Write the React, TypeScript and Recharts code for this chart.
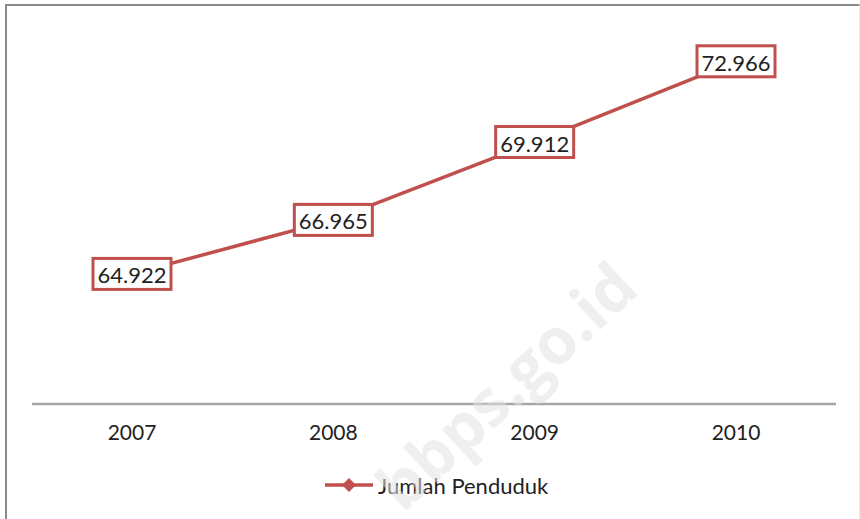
import { LineChart, Line, XAxis, YAxis, Legend } from "recharts";

const years = ["2007", "2008", "2009", "2010"];
const penduduk = [64922, 66965, 69912, 72966];
const seriesName = "Jumlah Penduduk";

const data = years.map((y, i) => ({ year: y, value: penduduk[i] }));

const RED = "#c0504d";
const FONT = "Lato, 'Open Sans', sans-serif";

// 64922 -> "64.922"
const fmt = (v: number) => {
  const th = Math.floor(v / 1000);
  const rest = String(v % 1000).padStart(3, "0");
  return `${th}.${rest}`;
};

const BoxLabel = (props: any) => {
  const { x, y, value } = props;
  const w = 78;
  const h = 31;
  return (
    <g>
      <rect
        x={x - w / 2}
        y={y - h / 2}
        width={w}
        height={h}
        fill="#fff"
        stroke={RED}
        strokeWidth={3}
      />
      <text
        x={x}
        y={y + 1}
        textAnchor="middle"
        dominantBaseline="central"
        fontSize={22}
        fontFamily={FONT}
        fill="#222"
      >
        {fmt(value)}
      </text>
    </g>
  );
};

const LegendContent = () => (
  <div
    style={{
      display: "flex",
      alignItems: "center",
      paddingLeft: 325,
      height: 30,
      fontFamily: FONT,
      fontSize: 22,
      color: "#222",
    }}
  >
    <svg width={50} height={20}>
      <line x1={0} y1={10} x2={48} y2={10} stroke={RED} strokeWidth={3.5} />
      <polygon points="24,3 31,10 24,17 17,10" fill={RED} />
    </svg>
    <span style={{ marginLeft: 3 }}>{seriesName}</span>
  </div>
);

export default function App() {
  return (
    <div
      style={{
        position: "absolute",
        left: 0,
        top: 0,
        width: 860,
        height: 519,
        background: "#fff",
        overflow: "hidden",
      }}
    >
      <div
        style={{
          position: "absolute",
          left: 5,
          top: 4,
          width: 852,
          height: 520,
          borderTop: "2px solid #8a8a8a",
          borderLeft: "2px solid #8a8a8a",
          borderRight: "1px solid #ececec",
        }}
      />
      <div style={{ position: "absolute", left: 0, top: 0 }}>
        <LineChart
          width={860}
          height={519}
          data={data}
          margin={{ top: 30, right: 24, left: 32, bottom: 45 }}
        >
          <XAxis
            dataKey="year"
            height={40}
            padding={{ left: 100, right: 100 }}
            tickSize={0}
            tickMargin={21}
            tickLine={false}
            axisLine={{ stroke: "#a6a6a6", strokeWidth: 2.5 }}
            tick={{ fill: "#222", fontSize: 21, fontFamily: FONT }}
          />
          <YAxis hide domain={[60000, 74150]} />
          <Legend
            verticalAlign="bottom"
            content={<LegendContent />}
            wrapperStyle={{ left: 0, top: 470, width: 860, height: 30 }}
          />
          <Line
            dataKey="value"
            name={seriesName}
            stroke={RED}
            strokeWidth={3.5}
            dot={false}
            label={<BoxLabel />}
            isAnimationActive={false}
          />
        </LineChart>
      </div>
      <div
        style={{
          position: "absolute",
          left: 505,
          top: 385,
          transform: "translate(-50%, -50%) rotate(-43deg)",
          whiteSpace: "nowrap",
          fontFamily: "'Open Sans', sans-serif",
          fontWeight: 700,
          fontSize: 64,
          color: "rgba(225,225,225,0.55)",
          pointerEvents: "none",
        }}
      >
        bbps.go.id
      </div>
    </div>
  );
}
